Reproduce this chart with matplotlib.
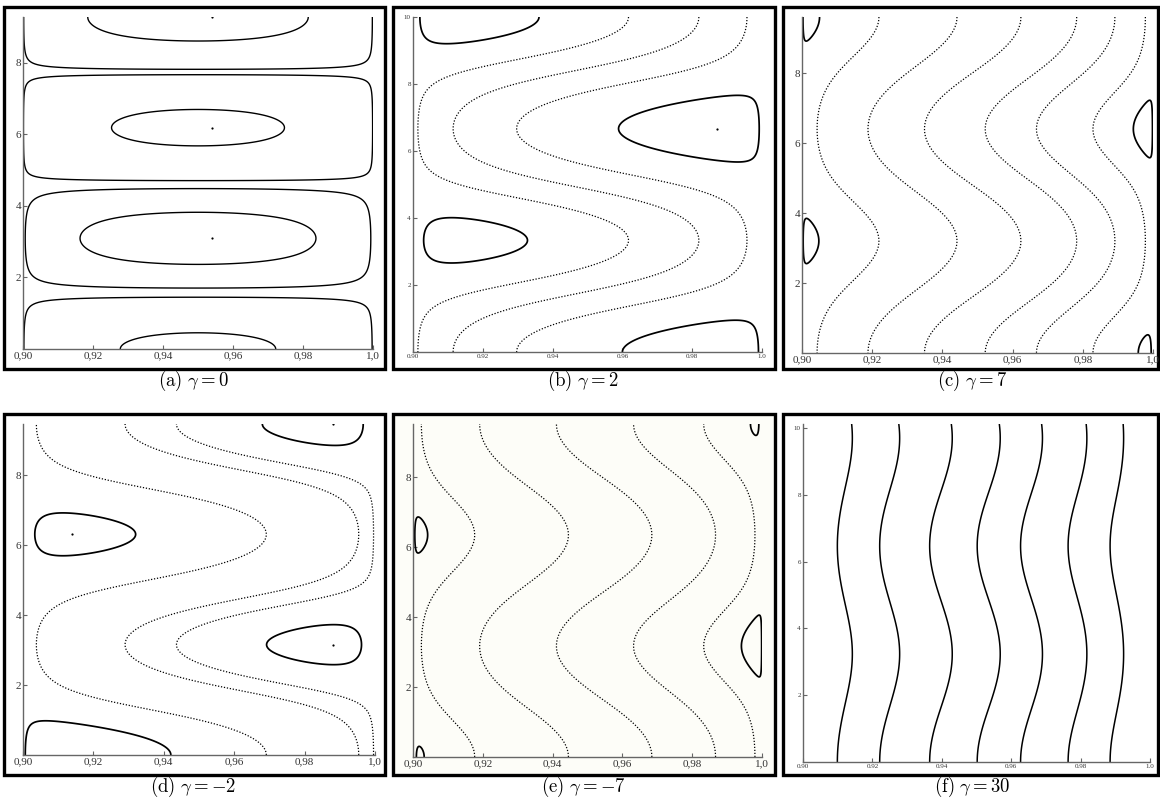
"""Phase portraits for six values of gamma (contours of the energy)."""

import numpy as np
import matplotlib
matplotlib.use("Agg")
import matplotlib.pyplot as plt
from matplotlib.patches import Rectangle

plt.rcParams["mathtext.fontset"] = "cm"
plt.rcParams["font.family"] = ["Liberation Serif", "DejaVu Serif"]
plt.rcParams["contour.negative_linestyle"] = "solid"

PI = np.pi
W, H = 1160, 799

# panel data -------------------------------------------------------------
panel_tags = ["a", "b", "c", "d", "e", "f"]
gammas = [0, 2, 7, -2, -7, 30]

# closed orbits (solid): a point (x, phase) the orbit passes through and the
# phase of the centre it winds round
orbit_x = [
    [0.9163, 0.9185, 0.9253, 0.9278, 0.95, 0.95, 0.95, 0.95],
    [0.9328, 0.9361, 0.9589, 0.9600],
    [0.9048, 0.9050, 0.9944, 0.9958],
    [0.9320, 0.9420, 0.9692, 0.9680],
    [0.9042, 0.9032, 0.9941, 0.9967],
    [],
]
orbit_phase = [
    [PI, 3 * PI, 2 * PI, 0, 1.73, 7.94, 4.78, 1.47],
    [PI, 3 * PI, 2 * PI, 0],
    [PI, 3 * PI, 2 * PI, 0],
    [2 * PI, 0, PI, 3 * PI],
    [2 * PI, 0, PI, 3 * PI],
    [],
]
orbit_centre = [
    [PI, 3 * PI, 2 * PI, 0, PI, 3 * PI, 2 * PI, 0],
    [PI, 3 * PI, 2 * PI, 0],
    [PI, 3 * PI, 2 * PI, 0],
    [2 * PI, 0, PI, 3 * PI],
    [2 * PI, 0, PI, 3 * PI],
    [],
]

# open (running) curves: x where each one crosses the given phase
open_x = [
    [],
    [0.9014, 0.9115, 0.9297],
    [0.9043, 0.9188, 0.9349, 0.9522, 0.9668, 0.9829],
    [0.9038, 0.9290, 0.9436],
    [0.9024, 0.9191, 0.9411, 0.9632, 0.9833],
    [0.9099, 0.9221, 0.9365, 0.9502, 0.9627, 0.9764, 0.9885],
]
open_phase = [0, 2 * PI, 2 * PI, PI, PI, 0]
open_dotted = [True, True, True, True, True, False]

# fixed points marked with a dot (x, phase)
dot_x = [[0.954, 0.954, 0.954], [0.987], [], [0.914, 0.988, 0.988], [], []]
dot_phase = [[PI, 2 * PI, 3 * PI], [2 * PI], [], [2 * PI, PI, 3 * PI], [], []]

# vertical scale of each panel (axis units per radian) and phase range shown
y_stretch = [0.985, 10 / (3 * PI), 1.02, 1.005, 1.01, 1.03]
phase_top = [3 * PI, 3 * PI, 3 * PI, 3 * PI, 3 * PI, 9.83]

x_ticks = [0.90, 0.92, 0.94, 0.96, 0.98, 1.0]
x_labels_comma = ["0,90", "0,92", "0,94", "0,96", "0,98", "1,0"]
x_labels_dot = ["0.90", "0.92", "0.94", "0.96", "0.98", "1.0"]
small_style = [False, True, False, False, False, True]

# layout in pixels: axes (left, top, right, bottom) and frames
axes_px = [
    (23, 17, 373, 349), (413, 17, 762, 352), (802, 17, 1153, 353),
    (23, 424, 375, 755), (413, 424, 762, 757), (803, 424, 1150, 762),
]
frame_px = [
    (4, 7, 385, 369), (393, 7, 775, 369), (783, 7, 1158, 369),
    (4, 414, 385, 775), (393, 414, 775, 775), (783, 414, 1158, 775),
]
caption_xy = [(193, 381), (583, 381), (972, 381),
              (193, 787), (583, 787), (972, 787)]


def energy(x, phase, gamma):
    return gamma * x + 2 * np.sqrt(np.clip((x - 0.9) * (1 - x), 0, None)) * np.cos(phase)


# x grid clustered near the edges, where the sqrt term is steep
xs = 0.95 - 0.05 * np.cos(np.linspace(0, PI, 1400))


def draw_level(ax, gamma, x0, p0, lo, hi, stretch, dotted, lw):
    ph = np.linspace(lo, hi, 900)
    X, P = np.meshgrid(xs, ph)
    Z = energy(X, P, gamma)
    level = energy(x0, p0, gamma)
    cs = ax.contour(X, P * stretch, Z, levels=[level], colors="k",
                    linewidths=lw, linestyles="solid")
    if dotted:
        cs.set_linestyle((0, (1.0, 1.4)))


fig = plt.figure(figsize=(W / 100, H / 100), dpi=100)

for i in range(6):
    fl, ft, fr, fb = frame_px[i]
    fill = "#fdfdf8" if panel_tags[i] == "e" else "white"
    fig.add_artist(Rectangle((fl / W, 1 - fb / H), (fr - fl) / W, (fb - ft) / H,
                             transform=fig.transFigure, facecolor=fill,
                             edgecolor="k", linewidth=2.4, zorder=0))

    l, t, r, b = axes_px[i]
    ax = fig.add_axes([l / W, 1 - b / H, (r - l) / W, (b - t) / H])
    ax.patch.set_alpha(0)
    g = gammas[i]
    st = y_stretch[i]
    top = phase_top[i]

    for x0, p0, c in zip(orbit_x[i], orbit_phase[i], orbit_centre[i]):
        lo, hi = max(c - PI / 2, 0), min(c + PI / 2, top)
        lw = 1.0 if i == 0 else 1.25
        draw_level(ax, g, x0, p0, lo, hi, st, False, lw)

    for x0 in open_x[i]:
        lw = 1.1 if not open_dotted[i] else 0.9
        draw_level(ax, g, x0, open_phase[i], 0, top, st, open_dotted[i], lw)

    if dot_x[i]:
        ax.plot(dot_x[i], np.array(dot_phase[i]) * st, "o", color="k", ms=1.6, mew=0)

    ax.set_xlim(0.9, 1.0)
    ax.set_ylim(0, top * st)
    ax.set_xticks(x_ticks)
    if small_style[i]:
        ax.set_xticklabels(x_labels_dot)
        ax.set_yticks([2, 4, 6, 8, 10])
        fs = 5
    else:
        ax.set_xticklabels(x_labels_comma)
        ax.set_yticks([2, 4, 6, 8])
        fs = 8
    for side in ["top", "right"]:
        ax.spines[side].set_visible(False)
    for side in ["left", "bottom"]:
        ax.spines[side].set_color("#666666")
        ax.spines[side].set_linewidth(1.0)
    ax.tick_params(direction="in", length=3, width=0.8, color="#666666",
                   labelsize=fs, labelcolor="#333333", pad=1.5)

    cx, cy = caption_xy[i]
    lab = r"$\mathrm{(%s)}\ \gamma = %d$" % (panel_tags[i], g)
    fig.text(cx / W, 1 - cy / H, lab, ha="center", va="center", fontsize=13.5)

fig.savefig("out.png", dpi=100)
